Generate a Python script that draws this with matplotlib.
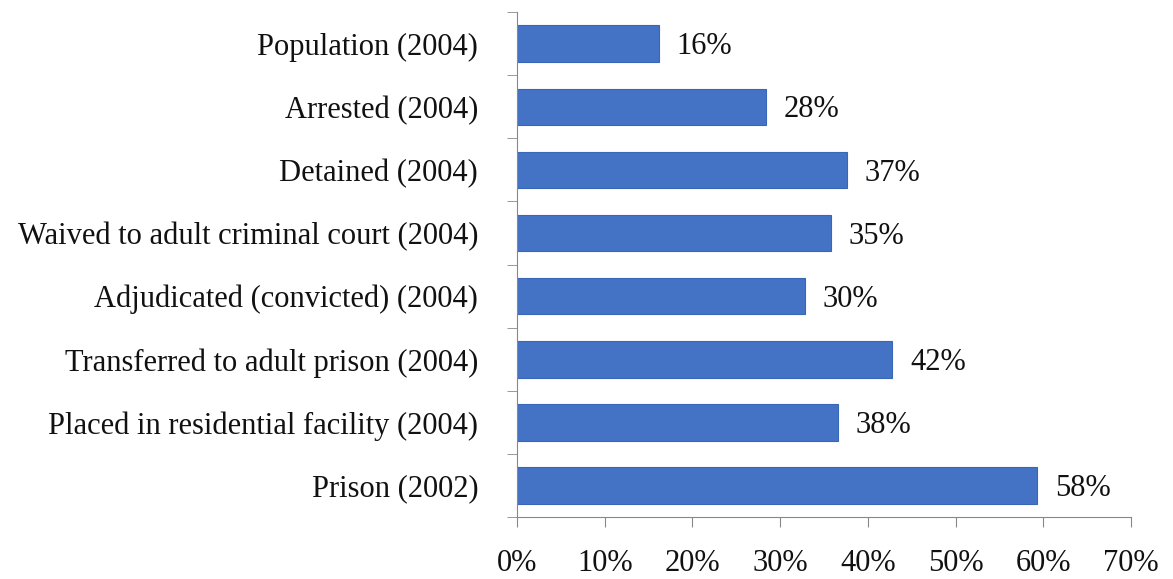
import matplotlib
matplotlib.use('Agg')
import matplotlib.pyplot as plt
import numpy as np

# data
categories = [
    'Population (2004)',
    'Arrested (2004)',
    'Detained (2004)',
    'Waived to adult criminal court (2004)',
    'Adjudicated (convicted) (2004)',
    'Transferred to adult prison (2004)',
    'Placed in residential facility (2004)',
    'Prison (2002)',
]
values = [16.2, 28.4, 37.6, 35.8, 32.8, 42.8, 36.6, 59.3]
value_labels = ['16%', '28%', '37%', '35%', '30%', '42%', '38%', '58%']
x_ticks = [0, 10, 20, 30, 40, 50, 60, 70]

plt.rcParams['font.family'] = ['Liberation Serif', 'DejaVu Serif']

fig = plt.figure(figsize=(11.73, 5.79), dpi=100)
ax = fig.add_axes([0.4408, 0.107, 0.5234, 0.872])

y = np.arange(len(categories))
ax.barh(y, values, height=0.58, color='#4472C4', edgecolor='#3a66b8', linewidth=0.8)

for yi, v, lab in zip(y, values, value_labels):
    ax.text(v + 2.0, yi + 0.05, lab, va='center', ha='left', fontsize=22, color='#111111')

ax.set_xlim(0, 70)
ax.set_ylim(len(categories) - 0.5, -0.5)

ax.set_yticks(y)
ax.set_yticklabels(categories, fontsize=22, color='#111111')
ax.set_yticks(np.arange(len(categories) + 1) - 0.5, minor=True)
ax.tick_params(axis='y', which='major', length=0, pad=28)
ax.tick_params(axis='y', which='minor', length=7, color='#888888', direction='out')

ax.set_xticks(x_ticks)
ax.set_xticklabels([f'{t}%' for t in x_ticks], fontsize=22, color='#111111')
ax.tick_params(axis='x', length=7, color='#888888', direction='out', pad=16)

for s in ['top', 'right']:
    ax.spines[s].set_visible(False)
ax.spines['left'].set_color('#888888')
ax.spines['bottom'].set_color('#888888')

plt.savefig('out.png', dpi=100)
plt.close(fig)
